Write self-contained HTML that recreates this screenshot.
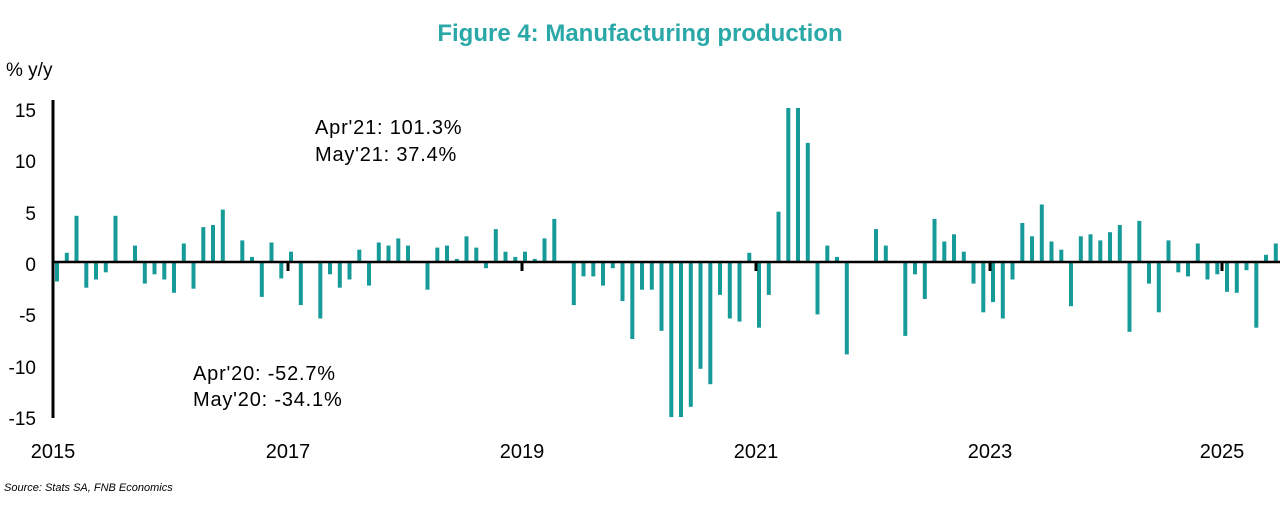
<!DOCTYPE html>
<html><head><meta charset="utf-8"><style>
html,body{margin:0;padding:0;background:#fff;}
svg{display:block;font-family:"Liberation Sans",sans-serif;}
</style></head><body>
<svg id="c" width="1280" height="520" xmlns="http://www.w3.org/2000/svg">
<text x="640" y="41" text-anchor="middle" font-size="24" font-weight="bold" fill="#2aa8a8">Figure 4: Manufacturing production</text>
<text x="6" y="76" font-size="19" fill="#000">% y/y</text>
<g font-size="19" fill="#000" text-anchor="end">
<text x="36" y="117">15</text>
<text x="36" y="168">10</text>
<text x="36" y="220">5</text>
<text x="36" y="271">0</text>
<text x="36" y="322">-5</text>
<text x="36" y="374">-10</text>
<text x="36" y="425">-15</text>
</g>
<g font-size="20" fill="#000" text-anchor="middle">
<text x="53" y="458">2015</text>
<text x="288" y="458">2017</text>
<text x="522" y="458">2019</text>
<text x="756" y="458">2021</text>
<text x="990" y="458">2023</text>
<text x="1222" y="458">2025</text>
</g>
<g font-size="20" fill="#000" letter-spacing="0.8">
<text x="315" y="134">Apr'21: 101.3%</text>
<text x="315" y="161">May'21: 37.4%</text>
<text x="193" y="380">Apr'20: -52.7%</text>
<text x="193" y="406">May'20: -34.1%</text>
</g>
<text x="4" y="491" font-size="11" font-style="italic" fill="#000">Source: Stats SA, FNB Economics</text>
<g id="bars" fill="#169b98"></g>
<line x1="53" y1="100" x2="53" y2="418" stroke="#000" stroke-width="3"/>
<line x1="52" y1="262" x2="1280" y2="262" stroke="#000" stroke-width="2.5"/>
<g stroke="#000" stroke-width="3">
<line x1="288" y1="262" x2="288" y2="271"/>
<line x1="522" y1="262" x2="522" y2="271"/>
<line x1="756" y1="262" x2="756" y2="271"/>
<line x1="990" y1="262" x2="990" y2="271"/>
<line x1="1222" y1="262" x2="1222" y2="271"/>
</g>
</svg>
<script>
var v=[-1.9,0.9,4.5,-2.5,-1.7,-1.0,4.5,-0.1,1.6,-2.1,-1.2,-1.7,-3.0,1.8,-2.6,3.4,3.6,5.1,0,2.1,0.5,-3.4,1.9,-1.6,
1.0,-4.2,0,-5.5,-1.2,-2.5,-1.7,1.2,-2.3,1.9,1.6,2.3,1.6,0,-2.7,1.4,1.6,0.3,
2.5,1.4,-0.6,3.2,1.0,0.5,1.0,0.3,2.3,4.2,0,-4.2,-1.4,-1.4,-2.3,-0.6,-3.8,-7.5,
-2.7,-2.7,-6.7,-52.7,-34.1,-14.1,-10.4,-11.9,-3.2,-5.5,-5.8,0.9,
-6.4,-3.2,4.9,101.3,37.4,11.6,-5.1,1.6,0.5,-9.0,0,0,
3.2,1.6,0,-7.2,-1.2,-3.6,4.2,2.0,2.7,1.0,-2.1,-4.9,
-3.9,-5.5,-1.7,3.8,2.5,5.6,2.0,1.2,-4.3,2.5,2.7,2.1,
2.9,3.6,-6.8,4.0,-2.1,-4.9,2.1,-1.0,-1.4,1.8,-1.7,-1.2,
-2.9,-3.0,-0.8,-6.4,0.7,1.8];
var g=document.getElementById('bars'),s='';
for(var i=0;i<v.length;i++){var x=57+9.75*i;var val=Math.max(-15.1,Math.min(15,v[i]));var h=Math.abs(val)*10.27;var y=val>=0?262-h:262;
s+='<rect x="'+(x-2).toFixed(1)+'" y="'+y.toFixed(1)+'" width="4" height="'+h.toFixed(1)+'"/>';}
g.innerHTML=s;
</script>
</body></html>
